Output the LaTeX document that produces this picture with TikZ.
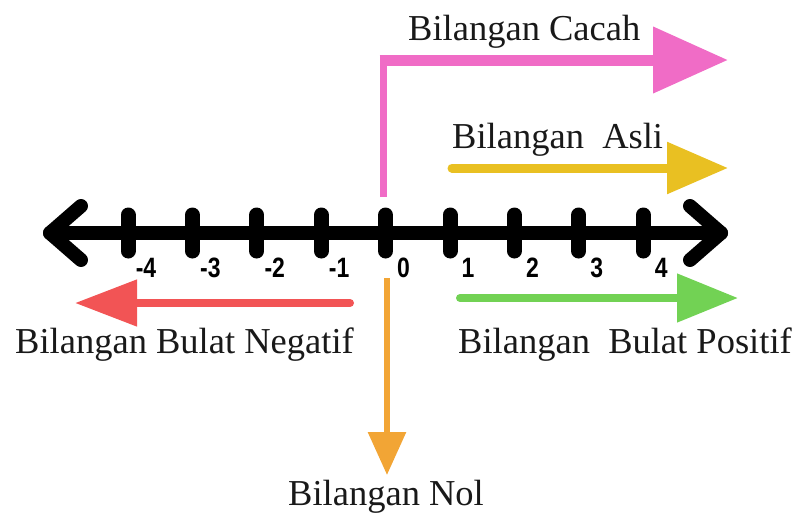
\documentclass[tikz,border=0pt]{standalone}
\usepackage{fontspec}
\setmainfont{Liberation Serif}
\newfontfamily\numfont{Liberation Sans}[FakeStretch=0.82]
\usepackage{tikz}
\usetikzlibrary{arrows.meta}
\usetikzlibrary{positioning}

\definecolor{cacahpink}{HTML}{F06CC6}
\definecolor{asliyellow}{HTML}{E9C022}
\definecolor{negred}{HTML}{F25455}
\definecolor{posgreen}{HTML}{72D254}
\definecolor{nolorange}{HTML}{F2A535}

\newcommand{\ticksize}{\fontsize{28pt}{30pt}\selectfont}

\tikzset{
	numline/.style={line width=14pt,line cap=round,line join=round},
	tickmark/.style={line width=15pt,line cap=round},
	ticklabel/.style={font=\ticksize\numfont\bfseries,inner sep=0pt},
	setlabel/.style={font=\fontsize{36.5}{40}\selectfont,text=black!90,inner sep=0pt,anchor=base west},
}

\begin{document}
\begin{tikzpicture}[x=1pt,y=-1pt]
	\useasboundingbox (0,0) rectangle (798,517);
	% number line with both ends
	\coordinate (left end) at (50,233);
	\coordinate (right end) at (721,233);
	\draw [numline] (left end) -- (right end);
	\draw [numline] (81,206) -- (left end) -- (81,260);
	\draw [numline] (690,206) -- (right end) -- (690,260);
	\foreach \n [count=\i from 0] in {-4,-3,-2,-1,0,1,2,3,4} {
		\draw [tickmark] (128+64.4*\i,215) -- (128+64.4*\i,251);
		\node [ticklabel] (tick \i) at (146+64.4*\i,268) {\n};
	}
	% Bilangan Cacah
	\coordinate (cacah start) at (383,197);
	\coordinate (cacah corner) at (383,60);
	\coordinate (cacah end) at (728,60);
	\draw [cacahpink,line width=7pt] (cacah start) -- (cacah corner);
	\draw [cacahpink,line width=11pt,-{Triangle[length=75pt,width=64pt]}] (379.5,60) -- (cacah end);
	\node [setlabel] (cacah) at (408,40) {Bilangan Cacah};
	% Bilangan Asli
	\coordinate (asli start) at (452,168);
	\coordinate (asli end) at (728,168);
	\draw [asliyellow,line width=9pt,line cap=round,-{Triangle[length=61pt,width=50pt]}] (asli start) -- (asli end);
	\node [setlabel] (asli) at (452,148) {Bilangan\ \ Asli};
	% Bilangan Bulat Negatif
	\coordinate (neg start) at (350,303);
	\coordinate (neg end) at (75,303);
	\draw [negred,line width=8pt,line cap=round,-{Triangle[length=62pt,width=45pt]}] (neg start) -- (neg end);
	\node [setlabel] (neg) at (15,353) {Bilangan Bulat Negatif};
	% Bilangan Bulat Positif
	\coordinate (pos start) at (460,298);
	\coordinate (pos end) at (738,298);
	\draw [posgreen,line width=8pt,line cap=round,-{Triangle[length=61pt,width=47pt]}] (pos start) -- (pos end);
	\node [setlabel] (pos) at (458,353) {Bilangan\ \ Bulat Positif};
	% Bilangan Nol
	\coordinate (nol start) at (387,278);
	\coordinate (nol end) at (387,475);
	\draw [nolorange,line width=6pt,-{Triangle[length=43pt,width=37pt]}] (nol start) -- (nol end);
	\node [setlabel] (nol) at (288,505) {Bilangan Nol};
\end{tikzpicture}
\end{document}
